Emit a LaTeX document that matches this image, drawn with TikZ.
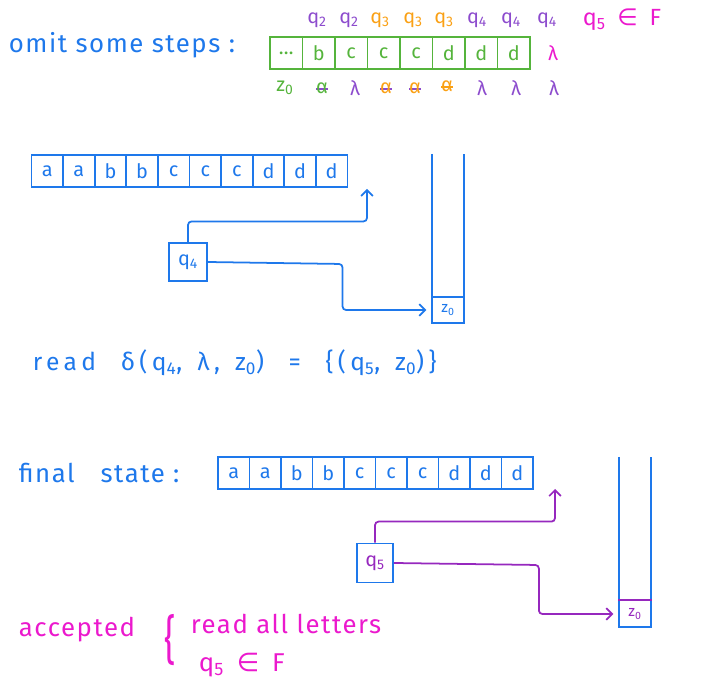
\documentclass[tikz,border=0pt]{standalone}
\usepackage{fontspec}
\setmainfont{Fira Sans}
\newfontfamily\symfont{DejaVu Sans}
\usetikzlibrary{arrows.meta}
\definecolor{penblue}{RGB}{30,120,235}
\definecolor{pengreen}{RGB}{85,180,60}
\definecolor{penpurple}{RGB}{140,75,205}
\definecolor{penorange}{RGB}{250,160,20}
\definecolor{penmagenta}{RGB}{235,25,205}
\definecolor{arrowpurple}{RGB}{150,40,190}
\begin{document}
\begin{tikzpicture}[x=0.03cm,y=-0.03cm,line width=1.5pt,
  tape cell/.style={draw=penblue,text=penblue,minimum width=0.95cm,minimum height=0.95cm,inner sep=0pt,font=\fontsize{17}{18}\selectfont},
  stack cell/.style={minimum width=0.96cm,minimum height=0.8cm,inner sep=0pt,font=\fontsize{13}{14}\selectfont},
  state box/.style={draw=penblue,minimum width=1.12cm,minimum height=1.12cm,inner sep=0pt,font=\fontsize{17}{18}\selectfont},
  hand text/.style={anchor=west,inner sep=0pt,font=\fontsize{22}{24}\selectfont\addfontfeature{LetterSpace=6}},
  small label/.style={inner sep=0pt,font=\fontsize{17}{18}\selectfont},
  popped/.style={path picture={\draw[#1,line width=1.5pt] ([yshift=-1pt]path picture bounding box.west) -- ([yshift=-1pt]path picture bounding box.east);}},
  flow/.style={-{Straight Barb[length=5pt,width=10pt]},rounded corners=3pt}]
\useasboundingbox (0,0) rectangle (715,682);

% omit some steps
\node[hand text,text=penblue] (omit) at (8,45) {omit some steps :};
\foreach \l [count=\i] in {\dots,b,c,c,c,d,d,d}
  \node[tape cell,draw=pengreen,text=pengreen,minimum width=0.975cm] (g\i) at ({270+(\i-0.5)*32.5},53) {\l};
\foreach \s/\x/\c [count=\i] in {2/317/penpurple,2/349/penpurple,3/380/penorange,3/413/penorange,3/444/penorange,4/477/penpurple,4/511/penpurple,4/547/penpurple}
  \node[small label,text=\c] (q\i) at (\x,20) {q\textsubscript{\s}};
\node[small label,text=penmagenta,font=\fontsize{20}{22}\selectfont] (qf) at (622,20) {q\textsubscript{5}\enspace{\symfont∈}\enspace F};
\node[small label,text=penmagenta] (lam) at (553,53) {λ};
\node[small label,text=pengreen] (z0) at (285,88) {z\textsubscript{0}};
\node[small label,text=pengreen,popped=penpurple] (s1) at (322,88) {α};
\node[small label,text=penpurple] (s2) at (355,88) {λ};
\node[small label,text=penorange,popped=penpurple] (s3) at (386,88) {α};
\node[small label,text=penorange,popped=penpurple] (s4) at (415,88) {α};
\node[small label,text=penorange,popped=penorange] (s5) at (447,86) {α};
\node[small label,text=penpurple] (s6) at (482,88) {λ};
\node[small label,text=penpurple] (s7) at (516,88) {λ};
\node[small label,text=penpurple] (s8) at (554,88) {λ};

% q4 reads lambda
\foreach \l [count=\i] in {a,a,b,b,c,c,c,d,d,d}
  \node[tape cell] (m\i) at ({31.5+(\i-0.5)*31.6},171) {\l};
\draw[penblue] (432,154) |- (464,323) -- (464,154);
\node[stack cell,draw=penblue,text=penblue] (mz) at (448,310) {z\textsubscript{0}};
\node[state box,text=penblue] (q4) at (188,262) {q\textsubscript{4}};
\coordinate (mtip) at (367,189);
\draw[flow,penblue] (q4.north) -- ++(0,-21) -| (mtip);
\draw[flow,penblue,shorten >=4pt] (q4.east) -- ++(135,2) |- (mz.west);
\node[hand text,text=penblue,font=\fontsize{21}{22}\selectfont\addfontfeature{LetterSpace=18}] (rd) at (32,363) {read\quad δ(q\textsubscript{4},\, λ,\, z\textsubscript{0})\quad =\quad\{(q\textsubscript{5},\, z\textsubscript{0})\}};

% final state
\node[hand text,text=penblue] (fin) at (18,473) {final\quad state :};
\foreach \l [count=\i] in {a,a,b,b,c,c,c,d,d,d}
  \node[tape cell] (b\i) at ({218+(\i-0.5)*31.5},473) {\l};
\draw[penblue] (619,457) |- (651,627) -- (651,457);
\node[stack cell,text=arrowpurple,minimum height=0.78cm] (bz) at (635,614) {z\textsubscript{0}};
\draw[arrowpurple] (bz.north west) -- (bz.north east);
\node[state box,text=arrowpurple,minimum width=1.08cm,minimum height=1.17cm] (q5) at (375,563) {q\textsubscript{5}};
\coordinate (btip) at (555,489);
\draw[flow,arrowpurple] (q5.north) -- ++(0,-21) -| (btip);
\draw[flow,arrowpurple,shorten >=4pt] (q5.east) -- ++(145,2) |- (bz.west);

% accepted
\node[hand text,text=penmagenta] (acc) at (18,630) {accepted};
\node[inner sep=0pt,text=penmagenta,font=\fontsize{30}{40}\selectfont,yscale=1.5] (brace) at (170,640) {\{};
\node[hand text,text=penmagenta] (all) at (190,624) {read all letters};
\node[hand text,text=penmagenta] (inF) at (198,665) {q\textsubscript{5}\enspace{\symfont∈}\enspace F};
\end{tikzpicture}
\end{document}
